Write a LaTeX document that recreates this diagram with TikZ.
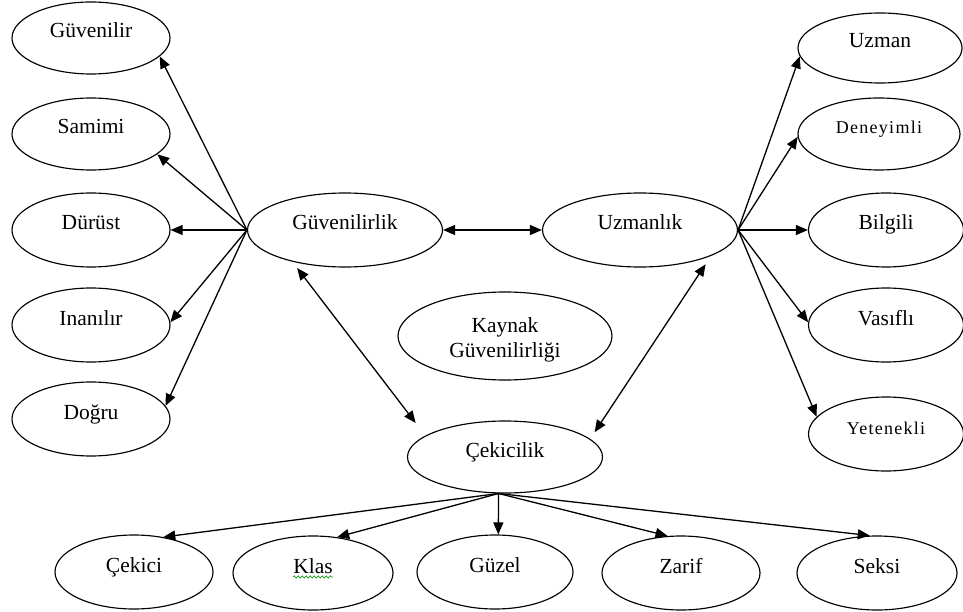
\documentclass[tikz,border=0pt]{standalone}
\usepackage{fontspec}
\setmainfont{Liberation Serif}
\newfontfamily\tracked[LetterSpace=7]{Liberation Serif}
\usetikzlibrary{arrows.meta,shapes.geometric,decorations.pathmorphing}

\begin{document}
\begin{tikzpicture}[x=1pt,y=-1pt,
  oval/.style={draw, ellipse, line width=1.15pt, inner sep=0pt,
    minimum width=158pt, minimum height=74pt,
    font=\fontsize{21.5}{25}\selectfont},
  word/.style={oval, text height=15pt, text depth=15pt},
  small/.style={word, font=\fontsize{18}{22}\selectfont\tracked},
  link/.style={line width=1.3pt, -{Triangle[length=12pt,width=10pt]}},
  both/.style={line width=1.3pt, {Triangle[length=12pt,width=10pt]}-{Triangle[length=12pt,width=10pt]}},
  squiggle/.style={draw=green!55!black, line width=0.6pt, decorate,
    decoration={snake, amplitude=1.2pt, segment length=4pt}}
]
\useasboundingbox (0,0) rectangle (963,612);

% central concepts
\node[word, minimum width=195pt] (gvl) at (345,230) {Güvenilirlik};
\node[word, minimum width=195pt] (uzl) at (640,230) {Uzmanlık};
\node[oval, minimum width=214pt, minimum height=88pt, align=center] (kyn) at (505,336)
  {\rule{0pt}{22pt}Kaynak\\Güvenilirliği};
\node[word, minimum width=195pt, minimum height=72pt] (cek) at (505,457) {Çekicilik};

% trustworthiness items
\node[word, minimum height=72pt] (l1) at (91,38)  {Güvenilir};
\node[word, minimum height=72pt] (l2) at (91,134) {Samimi};
\node[word] (l3) at (91,230) {Dürüst};
\node[word] (l4) at (91,325) {Inanılır};
\node[word] (l5) at (91,419) {Doğru};

% expertise items
\node[word, minimum width=164pt, minimum height=70pt] (r1) at (880,48) {Uzman};
\node[small, minimum width=162pt, minimum height=72pt] (r2) at (879,134) {Deneyimli};
\node[word, minimum width=155pt] (r3) at (886,230) {Bilgili};
\node[word, minimum width=155pt] (r4) at (886,325) {Vasıflı};
\node[small, minimum width=155pt] (r5) at (886,434) {Yetenekli};

% attractiveness items
\node[word] (b1) at (134,572) {Çekici};
\node[word, minimum width=160pt] (b2) at (313,573) {Klas};
\node[word, minimum width=156pt] (b3) at (495,572) {Güzel};
\node[word] (b4) at (681,573) {Zarif};
\node[word, minimum width=160pt] (b5) at (877,573) {Seksi};

% spell-check underline under "Klas"
\draw[squiggle] ([xshift=-20pt,yshift=-4pt]b2.center) -- ([xshift=20pt,yshift=-4pt]b2.center);

% fan from Güvenilirlik
\draw[link] (gvl.west) -- (l1.-15.7);
\draw[link] (gvl.west) -- (l2.-17.9);
\draw[link] (gvl.west) -- (l3.east);
\draw[link] (gvl.west) -- (l4.2.2);
\draw[link] (gvl.west) -- (l5.10);

% fan from Uzmanlık
\draw[link] (uzl.east) -- (r1.186.5);
\draw[link] (uzl.east) -- (r2.182);
\draw[link] (uzl.east) -- (r3.west);
\draw[link] (uzl.east) -- (r4.178.5);
\draw[link] (uzl.east) -- (r5.166);

% fan from Çekicilik
\draw[link] (cek.-100) -- (b1.50);
\draw[link] (cek.-100) -- (b2.56);
\draw[link] (cek.-100) -- (b3.85);
\draw[link] (cek.-100) -- (b4.110);
\draw[link] (cek.-100) -- (b5.101);

% links between the three dimensions
\draw[both] (gvl.east) -- (uzl.west);
\draw[both, shorten <=8pt, shorten >=16pt] (gvl.-149) -- (cek.165.6);
\draw[both, shorten <=10pt, shorten >=8pt] (uzl.-20.8) -- (cek.12.3);
\end{tikzpicture}
\end{document}
